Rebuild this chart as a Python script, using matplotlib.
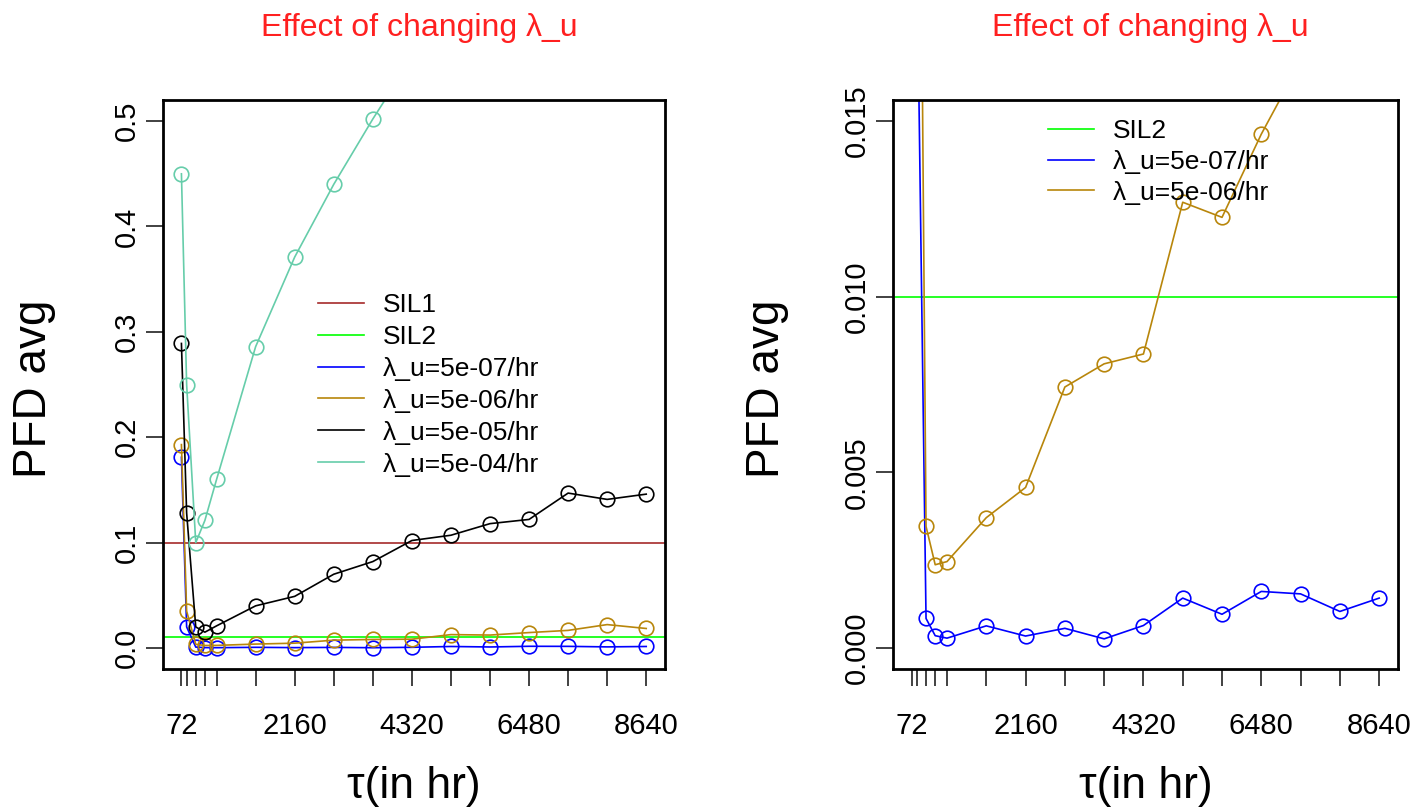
import matplotlib
matplotlib.use("Agg")
import matplotlib.pyplot as plt

plt.rcParams["font.family"] = ["Liberation Sans", "DejaVu Sans"]

tau = [72, 168, 336, 504, 720, 1440, 2160, 2880, 3600, 4320, 5040, 5760, 6480, 7200, 7920, 8640]
tick_labels = [72, 2160, 4320, 6480, 8640]

pfd_5e7 = [0.181, 0.020, 0.00084, 0.00035, 0.00028, 0.00063, 0.00034, 0.00056, 0.00026,
           0.00064, 0.00142, 0.00096, 0.00161, 0.00154, 0.00104, 0.00142]
pfd_5e6 = [0.193, 0.035, 0.00346, 0.00237, 0.00246, 0.00371, 0.00457, 0.00743, 0.00809,
           0.00837, 0.01269, 0.01226, 0.01463, 0.0167, 0.0222, 0.0185]
pfd_5e5 = [0.289, 0.128, 0.020, 0.015, 0.021, 0.040, 0.049, 0.070, 0.082,
           0.102, 0.107, 0.118, 0.122, 0.147, 0.141, 0.146]
pfd_5e4 = [0.450, 0.250, 0.100, 0.121, 0.160, 0.286, 0.371, 0.440, 0.502,
           0.560, 0.610, 0.660, 0.700, 0.740, 0.780, 0.820]

sil1 = 0.1
sil2 = 0.01

C_SIL1 = "#A52A2A"
C_SIL2 = "#00FF00"
C_BLUE = "#0000FF"
C_GOLD = "#B8860B"
C_BLACK = "#000000"
C_TEAL = "#66CDAA"

TITLE = "Effect of changing λ_u"


def series(ax, y, color):
    ax.plot(tau, y, color=color, lw=1.2, marker="o", ms=10.5, mfc="none",
            mec=color, mew=1.2)


def style(ax, ylim, yticks, ylabels, ylab_x):
    span = tau[-1] - tau[0]
    ax.set_xlim(tau[0] - 0.04 * span, tau[-1] + 0.04 * span)
    yspan = ylim[1] - ylim[0]
    ax.set_ylim(ylim[0] - 0.04 * yspan, ylim[1] + 0.04 * yspan)
    ax.set_xticks(tau)
    ax.set_xticklabels([str(t) if t in tick_labels else "" for t in tau])
    ax.set_yticks(yticks)
    ax.set_yticklabels(ylabels)
    for s in ax.spines.values():
        s.set_linewidth(2)
    ax.tick_params(axis="both", length=12, width=1.3, color="#333333", labelsize=21)
    ax.tick_params(axis="x", pad=19)
    ax.tick_params(axis="y", pad=4)
    for lbl in ax.get_yticklabels():
        lbl.set_rotation(90)
        lbl.set_va("center")
    ax.set_ylabel("PFD avg", fontsize=33, va="center")
    ax.set_xlabel("τ(in hr)", fontsize=32, va="center")
    ax.yaxis.set_label_coords(ylab_x, 0.492)
    ax.xaxis.set_label_coords(0.5, -0.206)
    ax.text(0.51, 1.127, TITLE, transform=ax.transAxes, ha="center", va="center",
            color="#FF2020", fontsize=23)


fig = plt.figure(figsize=(14.16, 8.1), dpi=100)
ax1 = fig.add_axes([0.115, 0.174, 0.3545, 0.7025])
ax2 = fig.add_axes([0.6306, 0.174, 0.3566, 0.7025])

# left panel
ax1.axhline(sil1, color=C_SIL1, lw=1.2)
ax1.axhline(sil2, color=C_SIL2, lw=1.2)
series(ax1, pfd_5e7, C_BLUE)
series(ax1, pfd_5e6, C_GOLD)
series(ax1, pfd_5e5, C_BLACK)
series(ax1, pfd_5e4, C_TEAL)
style(ax1, (0, 0.5), [0, 0.1, 0.2, 0.3, 0.4, 0.5],
      ["0.0", "0.1", "0.2", "0.3", "0.4", "0.5"], -0.257)

h1 = [plt.Line2D([], [], color=c, lw=1.2) for c in
      [C_SIL1, C_SIL2, C_BLUE, C_GOLD, C_BLACK, C_TEAL]]
l1 = ["SIL1", "SIL2", "λ_u=5e-07/hr", "λ_u=5e-06/hr", "λ_u=5e-05/hr", "λ_u=5e-04/hr"]
ax1.legend(h1, l1, loc="upper left", bbox_to_anchor=(0.309, 0.661), frameon=False,
           fontsize=19, handlelength=1.75, handletextpad=0.7, labelspacing=0.3,
           borderpad=0, borderaxespad=0)

# right panel
ax2.axhline(sil2, color=C_SIL2, lw=1.2)
series(ax2, pfd_5e7, C_BLUE)
series(ax2, pfd_5e6, C_GOLD)
style(ax2, (0, 0.015), [0, 0.005, 0.010, 0.015],
      ["0.000", "0.005", "0.010", "0.015"], -0.2495)

h2 = [plt.Line2D([], [], color=c, lw=1.2) for c in [C_SIL2, C_BLUE, C_GOLD]]
l2 = ["SIL2", "λ_u=5e-07/hr", "λ_u=5e-06/hr"]
ax2.legend(h2, l2, loc="upper left", bbox_to_anchor=(0.307, 0.966), frameon=False,
           fontsize=19, handlelength=1.75, handletextpad=0.7, labelspacing=0.25,
           borderpad=0, borderaxespad=0)

fig.savefig("out.png", dpi=100)
